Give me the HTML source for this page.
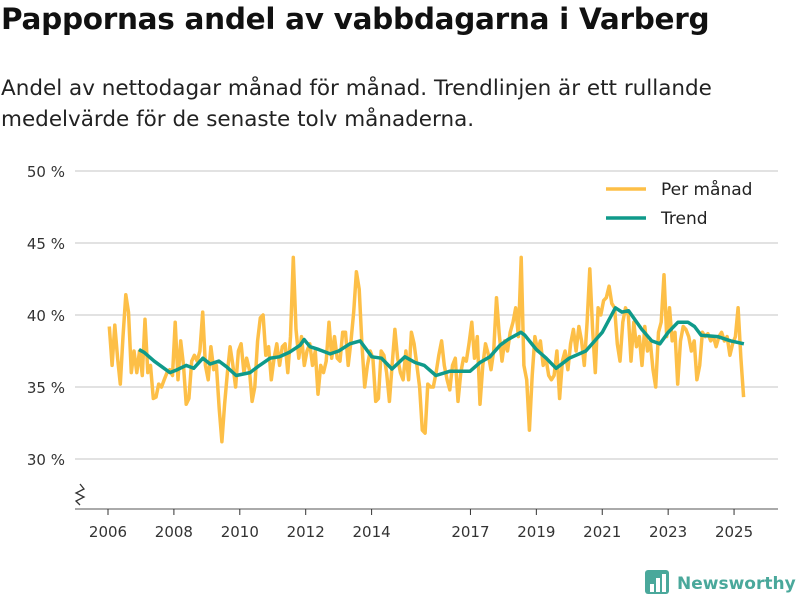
<!DOCTYPE html>
<html><head><meta charset="utf-8"><style>
body{margin:0;background:#fff;font-family:"DejaVu Sans","Liberation Sans",sans-serif;}
#wrap{position:relative;width:800px;height:600px;overflow:hidden;}
h1{position:absolute;left:1px;top:2px;margin:0;font-size:29.5px;font-weight:bold;color:#111;letter-spacing:-0.3px;white-space:nowrap}
p{position:absolute;left:1px;top:73px;margin:0;font-size:21.5px;line-height:31px;color:#222;white-space:nowrap}
</style></head><body>
<div id="wrap">
<h1>Pappornas andel av vabbdagarna i Varberg</h1>
<p>Andel av nettodagar månad för månad. Trendlinjen är ett rullande<br>medelvärde för de senaste tolv månaderna.</p>
<svg id="chart" width="800" height="600" style="position:absolute;left:0;top:0"></svg>
</div>
<script>
const startYear = 2006;
const monthly = [
39.2,36.5,39.3,37,35.2,38.5,41.4,40.2,36,37.5,36,37.5,
35.8,39.7,36,36.5,34.2,34.3,35.2,35,35.5,36,36.2,35.8,
39.5,35.5,38.2,36.5,33.8,34.2,36.8,37.2,36.8,37.5,40.2,36.5,
35.5,37.8,36.2,36.5,33.5,31.2,33.8,36,37.8,36.5,35,37.5,
38,36,37,36.2,34,35,38.2,39.8,40,37.2,37.8,35.5,
37,38,36.5,37.8,38,36,38.5,44,39,37,38.5,36.5,
37.5,38,36.5,37.5,34.5,36.5,36,36.8,39.5,37,38.5,37,
36.8,38.8,38.8,36.5,38.2,40.2,43,41.8,38,35,36.5,37.5,
37,34,34.2,37.5,37.2,36,34,36.5,39,37,36,35.5,
37.5,35.5,38.8,38,36.5,35,32,31.8,35.2,35,35,36,
37.2,38.2,36.5,35.5,34.8,36.5,37,34,36,37,36.8,38,
39.5,37,38.5,33.8,36.5,38,37.3,36.2,37.5,41.2,38.7,36.8,
38.2,37.5,38.8,39.5,40.5,38.5,44,36.5,35.5,32,35.8,38.5,
37.5,38.2,36.5,37,35.8,35.5,35.8,37.5,34.2,36.8,37.5,36.2,
38,39,37.5,39.2,38.2,36.5,39.5,43.2,39,36,40.5,40,
41,41.2,42,40.8,40.5,38,36.8,39.5,40.5,40,36.8,39.5,
37.8,38.5,36.5,39.2,37.5,38.2,36.2,35,38.8,39.5,42.8,38.5,
40.5,38.2,38.8,35.2,38.2,39.2,39,38.5,37.5,38.2,35.5,36.5,
38.8,38.5,38.7,38.2,38.5,37.8,38.5,38.8,38.2,38.5,37.2,38,
38.5,40.5,37,34.3];
const trendYears = [2006.94,2007.1,2007.4,2007.88,2008.1,2008.37,2008.6,2008.88,2009.1,2009.37,2009.6,2009.89,2010.31,2010.6,2010.92,2011.2,2011.5,2011.83,2011.95,2012.13,2012.4,2012.74,2013.0,2013.34,2013.65,2014.01,2014.3,2014.62,2015.01,2015.32,2015.6,2015.95,2016.38,2016.99,2017.29,2017.59,2017.9,2018.14,2018.53,2018.65,2019.0,2019.3,2019.6,2020.0,2020.5,2021.0,2021.4,2021.6,2021.8,2022.2,2022.5,2022.75,2023.0,2023.3,2023.6,2023.8,2024.0,2024.5,2024.9,2025.3];
const trendValues = [37.6,37.4,36.8,36.0,36.2,36.5,36.3,37.0,36.6,36.8,36.4,35.8,36.0,36.5,37.0,37.1,37.4,37.9,38.3,37.8,37.6,37.3,37.5,38.0,38.2,37.1,37.0,36.25,37.1,36.7,36.5,35.8,36.1,36.1,36.7,37.1,37.9,38.3,38.8,38.6,37.6,37.0,36.3,37.0,37.5,38.8,40.5,40.2,40.3,39.0,38.2,38.0,38.8,39.5,39.5,39.2,38.6,38.5,38.2,38.0];
const yTicks = [30,35,40,45,50];
const xTicks = [2006,2008,2010,2012,2014,2017,2019,2021,2023,2025];

const NS='http://www.w3.org/2000/svg';
const svg=document.getElementById('chart');
const x=t=>108+(t-2006)*32.95;
const y=v=>459-(v-30)*14.4;
function mk(tag,attrs,parent){const e=document.createElementNS(NS,tag);for(const k in attrs)e.setAttribute(k,attrs[k]);(parent||svg).appendChild(e);return e;}
const font='"DejaVu Sans","Liberation Sans",sans-serif';
yTicks.forEach(v=>{
  const l=mk('line',{x1:75,x2:778,y1:y(v),y2:y(v),stroke:'#d9d9d9','stroke-width':1.5});
  
  
  const t=mk('text',{x:65,y:y(v)+6,'text-anchor':'end','font-size':15,fill:'#333','font-family':font});
  t.textContent=v+' %';
  
  
});
const ax=mk('line',{x1:75,x2:778,y1:509,y2:509,stroke:'#555','stroke-width':1});


const br=mk('path',{d:'M80,484 l4,5 l-8,4 l8,4 l-8,4 l4,4',fill:'none',stroke:'#333','stroke-width':1.3});


xTicks.forEach(v=>{
  const l=mk('line',{x1:x(v),x2:x(v),y1:509,y2:515,stroke:'#333'});
  
  
  const t=mk('text',{x:x(v),y:537,'text-anchor':'middle','font-size':15,fill:'#333','font-family':font});
  t.textContent=v;
  
  
});
const mp=monthly.map((v,i)=>x(startYear+i/12+0.04).toFixed(1)+','+y(v).toFixed(1)).join(' ');
const m=mk('polyline',{points:mp,fill:'none',stroke:'#fdbf47','stroke-width':3.5,'stroke-linejoin':'round'});


const tp=trendValues.map((v,i)=>x(trendYears[i]).toFixed(1)+','+y(v).toFixed(1)).join(' ');
const tr=mk('polyline',{points:tp,fill:'none',stroke:'#0f9a8a','stroke-width':3.5,'stroke-linejoin':'round'});


[['Per månad','#fdbf47',189],['Trend','#0f9a8a',218]].forEach(([lab,c,yy])=>{
  const l=mk('line',{x1:606,x2:646,y1:yy,y2:yy,stroke:c,'stroke-width':3.5});
  
  
  const t=mk('text',{x:661,y:yy+6,'font-size':17,fill:'#222','font-family':font});
  t.textContent=lab;
  
  
});
const g=mk('g',{});


mk('rect',{x:645,y:570,width:24,height:24,rx:3,fill:'#4aa89b'},g);
[[650,584,4],[656,578,4],[662,574,4]].forEach(([a,b,w])=>mk('rect',{x:a,y:b,width:w,height:592-b,fill:'#fff'},g));
const lt=mk('text',{x:677,y:589,'font-size':17,'font-weight':'bold',fill:'#4aa89b','font-family':font},g);
lt.textContent='Newsworthy';
</script>
</body></html>
